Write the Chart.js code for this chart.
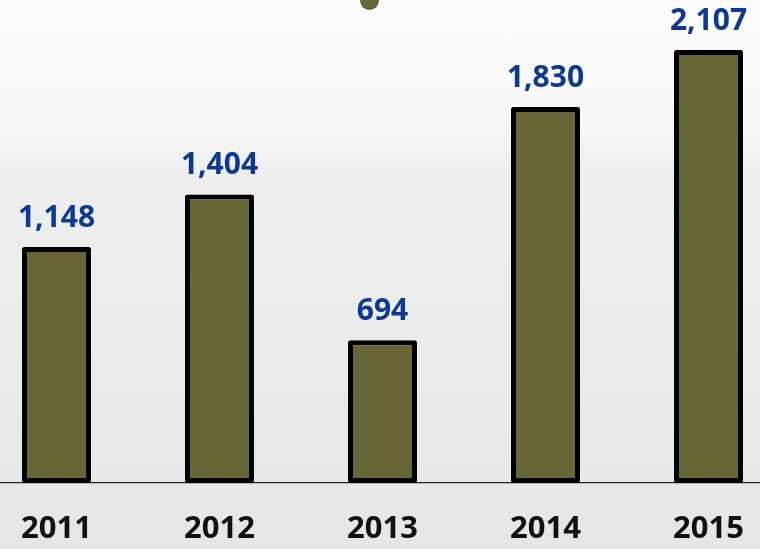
<!DOCTYPE html>
<html>
<head>
<meta charset="utf-8">
<script src="https://cdn.jsdelivr.net/npm/chart.js@4.4.1/dist/chart.umd.min.js"></script>
<style>
  html, body { margin: 0; padding: 0; }
  body {
    width: 760px; height: 549px; overflow: hidden; position: relative;
    background: linear-gradient(to bottom, #fcfcfc 0px, #f8f8f8 120px, #eeeeee 180px, #ebebeb 350px, #e6e6e6 549px);
    font-family: "Noto Sans", Arial, sans-serif;
  }
  #wrap { position: absolute; left: -25px; top: 0; width: 815px; height: 549px; }
  .dot {
    position: absolute; left: 360px; top: -9px; width: 19px; height: 19px;
    border-radius: 50%; background: #666535;
  }
</style>
</head>
<body>
<div class="dot"></div>
<div id="wrap"><canvas id="salesChart"></canvas></div>
<script>
// Values
const years = ['2011', '2012', '2013', '2014', '2015'];
const totals = [1148, 1404, 694, 1830, 2107];

// Value labels above each bar
const valueLabels = {
    id: 'valueLabels',
    afterDatasetsDraw(chart) {
        const ctx = chart.ctx;
        const meta = chart.getDatasetMeta(0);
        ctx.save();
        ctx.font = 'bold 30px "Noto Sans", Arial, sans-serif';
        ctx.fillStyle = '#0c3993';
        ctx.textAlign = 'center';
        ctx.textBaseline = 'alphabetic';
        meta.data.forEach((bar, i) => {
            ctx.fillText(totals[i].toLocaleString('en-US'), bar.x, bar.y - 20);
        });
        ctx.restore();
    }
};

const ctx = document.getElementById('salesChart').getContext('2d');
new Chart(ctx, {
    type: 'bar',
    data: {
        labels: years,
        datasets: [{
            data: totals,
            backgroundColor: '#666535',
            borderColor: '#000000',
            borderWidth: 5,
            borderSkipped: false,
            borderRadius: 2,
            categoryPercentage: 1,
            barPercentage: 0.423
        }]
    },
    options: {
        responsive: true,
        maintainAspectRatio: false,
        animation: false,
        layout: { padding: 0 },
        plugins: {
            legend: { display: false },
            tooltip: { enabled: false }
        },
        scales: {
            y: {
                display: false,
                min: 0,
                max: 2350
            },
            x: {
                grid: { display: false, drawTicks: false },
                border: { display: true, color: '#222222', width: 1.2 },
                ticks: {
                    color: '#111111',
                    padding: 28,
                    font: { family: '"Noto Sans", Arial, sans-serif', size: 31, weight: 'bold' }
                },
                afterFit(scale) { scale.height = 66; }
            }
        }
    },
    plugins: [valueLabels]
});
</script>
</body>
</html>
